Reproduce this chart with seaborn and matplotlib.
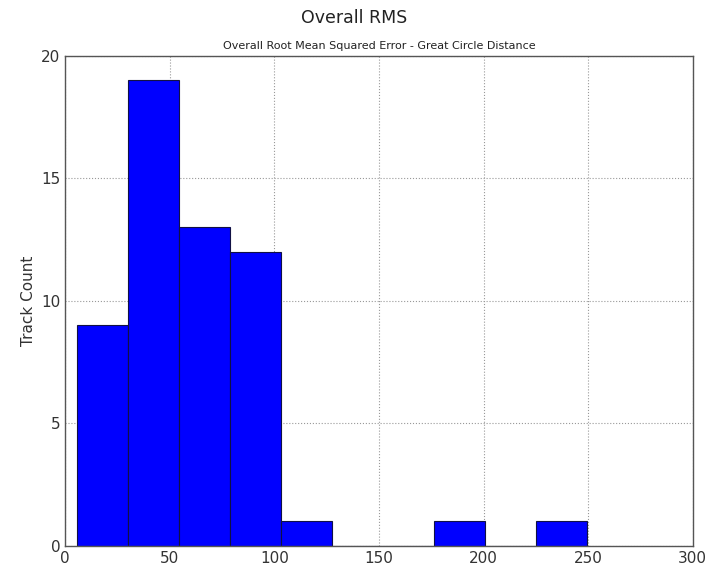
import numpy as np
import pandas as pd
import matplotlib
matplotlib.use('Agg')
import matplotlib.pyplot as plt
import seaborn as sns

# histogram: 10 bins of ~24.4 starting at ~5.5
bin_start = 5.5
bin_width = 24.4
counts = [9, 19, 13, 12, 1, 0, 0, 1, 0, 1]

edges = bin_start + bin_width * np.arange(len(counts) + 1)
df = pd.DataFrame({'rms': (edges[:-1] + edges[1:]) / 2, 'count': counts})

sns.set_style('white')
plt.rcParams['font.family'] = ['DejaVu Sans']

fig = plt.figure(figsize=(7.09, 5.71), dpi=100)
ax = fig.add_axes([0.092, 0.044, 0.885, 0.858])

sns.histplot(data=df, x='rms', weights='count', binwidth=bin_width,
             binrange=(edges[0], edges[-1]), color='#0000ff',
             edgecolor='#111144', linewidth=0.8, alpha=1.0, ax=ax)

ax.set_xlim(0, 300)
ax.set_ylim(0, 20)
ax.set_xticks([0, 50, 100, 150, 200, 250, 300])
ax.set_yticks([0, 5, 10, 15, 20])
ax.grid(True, linestyle=':', color='#999999', linewidth=0.8)
ax.set_axisbelow(True)
ax.tick_params(direction='in', length=4, labelsize=11, colors='#333333')
for s in ax.spines.values():
    s.set_color('#555555')
    s.set_linewidth(1.0)

ax.set_xlabel('')
ax.set_ylabel('Track Count', fontsize=11, color='#333333')
ax.set_title('Overall Root Mean Squared Error - Great Circle Distance',
             fontsize=8, color='#222222', pad=5)
fig.suptitle('Overall RMS', fontsize=12.5, y=0.985, color='#222222')

fig.savefig('out.png', dpi=100)
